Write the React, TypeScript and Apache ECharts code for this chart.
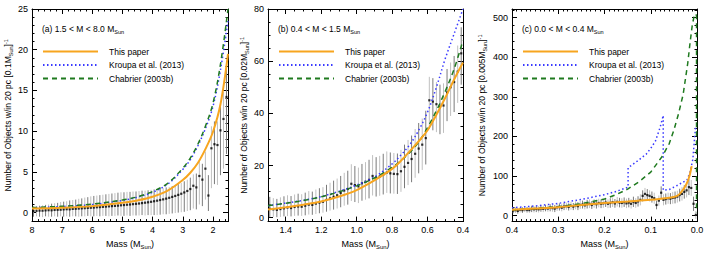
import React, { useEffect, useRef } from "react";
import * as echarts from "echarts";

const FONT = '"Liberation Sans", Arial, Helvetica, sans-serif';
const NAMES = ["This paper", "Kroupa et al. (2013)", "Chabrier (2003b)"];

// ---------- Panel (a) 1.5 < M < 8.0 ----------
const A_CURVE_MASS = [8, 7, 6, 5, 4.5, 4, 3.5, 3, 2.75, 2.5, 2.25, 2, 1.75, 1.5];
const A_THIS = [0.5, 0.6, 0.8, 1.2, 1.5, 1.95, 2.7, 4.0, 4.9, 6.1, 7.8, 9.9, 13.3, 19.5];
const A_KROUPA = [0.6, 0.75, 1.0, 1.5, 1.9, 2.5, 3.5, 5.3, 6.5, 8.2, 10.3, 13.0, 17.5, 23.5];
const A_CHAB = [0.62, 0.78, 1.05, 1.55, 1.95, 2.6, 3.6, 5.45, 6.7, 8.4, 10.6, 13.4, 18.2, 25];
const A_BINS = [
  7.95, 7.85, 7.75, 7.65, 7.55, 7.45, 7.35, 7.25, 7.15, 7.05,
  6.95, 6.85, 6.75, 6.65, 6.55, 6.45, 6.35, 6.25, 6.15, 6.05,
  5.95, 5.85, 5.75, 5.65, 5.55, 5.45, 5.35, 5.25, 5.15, 5.05,
  4.95, 4.85, 4.75, 4.65, 4.55, 4.45, 4.35, 4.25, 4.15, 4.05,
  3.95, 3.85, 3.75, 3.65, 3.55, 3.45, 3.35, 3.25, 3.15, 3.05,
  2.95, 2.85, 2.75, 2.65, 2.55, 2.45, 2.35, 2.25, 2.15, 2.05,
  1.95, 1.85, 1.75, 1.65, 1.55,
];
const A_VAL = [
  0.2, 0.22, 0.25, 0.24, 0.28, 0.3, 0.29, 0.33, 0.35, 0.36,
  0.4, 0.42, 0.41, 0.46, 0.48, 0.5, 0.53, 0.55, 0.58, 0.6,
  0.62, 0.66, 0.68, 0.71, 0.74, 0.77, 0.8, 0.83, 0.86, 0.9,
  0.93, 0.97, 1.0, 1.04, 1.08, 1.12, 1.17, 1.22, 1.27, 1.33,
  1.4, 1.47, 1.55, 1.63, 1.72, 1.82, 1.93, 2.05, 2.18, 2.32,
  2.48, 2.66, 2.9, 3.3, 3.1, 4.5, 4.05, 5.4, 2.1, 7.9,
  8.4, 8.3, 10.1, 11.5, 14.2,
];
const A_LO = [
  -0.5, -0.45, -0.5, -0.55, -0.45, -0.5, -0.5, -0.45, -0.5, -0.45,
  -0.5, -0.45, -0.5, -0.45, -0.45, -0.5, -0.45, -0.45, -0.4, -0.45,
  -0.45, -0.4, -0.45, -0.4, -0.4, -0.45, -0.4, -0.4, -0.35, -0.4,
  -0.4, -0.35, -0.4, -0.35, -0.35, -0.35, -0.3, -0.35, -0.3, -0.3,
  -0.3, -0.3, -0.25, -0.2, -0.2, -0.15, -0.1, -0.05, 0.0, 0.05,
  0.1, 0.2, 0.3, 0.5, 0.4, 1.0, 0.8, 1.6, 0.2, 3.0,
  3.5, 3.4, 4.6, 5.4, 7.2,
];
const A_HI = [
  0.75, 0.8, 0.85, 0.9, 0.95, 1.0, 1.1, 1.15, 1.2, 1.3,
  1.35, 1.4, 1.5, 1.55, 1.6, 1.7, 1.75, 1.85, 1.9, 2.0,
  2.05, 2.1, 2.15, 2.2, 2.25, 2.3, 2.35, 2.4, 2.45, 2.5,
  2.5, 2.55, 2.55, 2.6, 2.6, 2.65, 2.7, 2.7, 2.75, 2.8,
  2.85, 2.9, 2.95, 3.0, 3.1, 3.15, 3.25, 3.35, 3.5, 3.65,
  3.85, 4.05, 4.3, 4.7, 4.8, 6.3, 6.0, 7.5, 4.6, 10.6,
  11.2, 11.2, 13.3, 14.8, 17.8,
];
const A_XTICKS = [2, 3, 4, 5, 6, 7, 8];
const A_YTICKS = [0, 5, 10, 15, 20, 25];

// ---------- Panel (b) 0.4 < M < 1.5 ----------
const B_CURVE_MASS = [1.5, 1.4, 1.3, 1.2, 1.1, 1.0, 0.9, 0.8, 0.75, 0.7, 0.65, 0.6, 0.55, 0.5, 0.45, 0.4];
const B_THIS = [3.1, 4.0, 5.0, 6.2, 8.1, 10.6, 14.3, 18.7, 21.8, 25.5, 29.3, 33.5, 39.5, 46.0, 53.0, 59.5];
const B_KROUPA = [4.6, 5.6, 6.7, 8.1, 10.1, 12.5, 15.6, 20.6, 24.0, 28.0, 33.5, 40.5, 50.0, 61.0, 70.5, 80.0];
const B_CHAB = [4.6, 5.5, 6.6, 8.0, 9.9, 12.2, 15.2, 19.3, 21.9, 25.0, 29.0, 34.5, 41.0, 48.5, 57.0, 68.0];
const B_BINS = [
  1.49, 1.47, 1.45, 1.43, 1.41, 1.39, 1.37, 1.35, 1.33, 1.31,
  1.29, 1.27, 1.25, 1.23, 1.21, 1.19, 1.17, 1.15, 1.13, 1.11,
  1.09, 1.07, 1.05, 1.03, 1.01, 0.99, 0.97, 0.95, 0.93, 0.91,
  0.89, 0.87, 0.85, 0.83, 0.81, 0.79, 0.77, 0.75, 0.73, 0.71,
  0.69, 0.67, 0.65, 0.63, 0.61, 0.59, 0.57, 0.55, 0.53, 0.51,
  0.49, 0.47, 0.45, 0.43, 0.41,
];
const B_VAL = [
  3.4, 3.2, 3.0, 3.3, 3.6, 3.9, 3.7, 4.1, 4.3, 4.2,
  4.6, 5.0, 4.9, 5.4, 5.8, 6.1, 6.8, 7.4, 8.0, 8.6,
  9.5, 10.4, 11.0, 13.0, 12.5, 12.0, 13.2, 13.8, 14.5, 16.0,
  15.4, 15.8, 16.5, 17.3, 17.0, 16.8, 16.7, 17.8, 19.5, 21.0,
  22.5, 24.5, 26.5, 28.0, 30.5, 45.0, 44.5, 43.5, 42.5, 43.0,
  48.0, 50.0, 52.0, 56.0, 63.0,
];
const B_LO = [
  0.2, 0.3, 0.2, 0.3, 0.5, 0.6, 0.5, 0.7, 0.8, 0.7,
  0.9, 1.2, 1.1, 1.4, 1.7, 1.9, 2.3, 2.7, 3.1, 3.5,
  4.0, 4.6, 5.0, 6.4, 6.0, 5.6, 6.5, 6.9, 7.4, 8.5,
  8.1, 8.4, 8.9, 9.5, 9.3, 9.2, 9.1, 9.9, 11.3, 12.5,
  13.6, 15.3, 17.0, 18.3, 20.4, 34.0, 33.5, 32.8, 32.0, 32.5,
  37.0, 39.0, 40.5, 44.0, 51.0,
];
const B_HI = [
  8.0, 7.5, 7.2, 7.8, 8.2, 8.6, 8.3, 8.9, 9.2, 9.0,
  9.6, 10.2, 10.0, 10.8, 11.3, 11.7, 12.6, 13.4, 14.2, 15.0,
  16.0, 17.2, 18.0, 20.5, 19.8, 19.2, 20.6, 21.3, 22.2, 24.0,
  23.2, 23.7, 24.5, 25.4, 25.0, 24.8, 24.6, 26.0, 28.0, 29.8,
  31.5, 34.0, 36.3, 38.0, 41.0, 54.0, 53.5, 52.0, 51.0, 51.5,
  57.0, 59.5, 62.0, 66.0, 73.0,
];
const B_XTICKS = [1.4, 1.2, 1.0, 0.8, 0.6, 0.4];
const B_YTICKS = [0, 20, 40, 60, 80];

// ---------- Panel (c) 0.0 < M < 0.4 ----------
const C_THIS_MASS = [0.4, 0.35, 0.3, 0.25, 0.2, 0.15, 0.1, 0.07, 0.05, 0.04, 0.03, 0.025, 0.02, 0.015, 0.0115];
const C_THIS = [14.8, 18, 21.5, 27, 32, 36, 40, 44, 47, 52, 66, 75, 87, 106, 125];
const C_KROUPA_MASS = [0.4, 0.35, 0.3, 0.25, 0.2, 0.175, 0.149, 0.149, 0.13, 0.11, 0.1, 0.09, 0.08, 0.073, 0.073, 0.06, 0.05, 0.04, 0.03, 0.022, 0.015, 0.009, 0.005, 0.0025];
const C_KROUPA = [20, 24.5, 31, 41, 53, 61, 72, 121, 137, 155, 170, 188, 222, 253, 64, 66, 72, 78, 85, 89, 110, 142, 200, 228];
const C_CHAB_MASS = [0.4, 0.35, 0.3, 0.25, 0.2, 0.175, 0.15, 0.125, 0.1, 0.075, 0.06, 0.05, 0.04, 0.03, 0.02, 0.015, 0.01, 0.006, 0.003, 0.001, 0.001];
const C_CHAB = [15, 18, 23, 30, 42, 53, 67, 86, 110, 150, 182, 216, 257, 306, 385, 437, 483, 505, 510, 505, 8];
const C_BINS = [
  0.3975, 0.3925, 0.3875, 0.3825, 0.3775, 0.3725, 0.3675, 0.3625, 0.3575, 0.3525,
  0.3475, 0.3425, 0.3375, 0.3325, 0.3275, 0.3225, 0.3175, 0.3125, 0.3075, 0.3025,
  0.2975, 0.2925, 0.2875, 0.2825, 0.2775, 0.2725, 0.2675, 0.2625, 0.2575, 0.2525,
  0.2475, 0.2425, 0.2375, 0.2325, 0.2275, 0.2225, 0.2175, 0.2125, 0.2075, 0.2025,
  0.1975, 0.1925, 0.1875, 0.1825, 0.1775, 0.1725, 0.1675, 0.1625, 0.1575, 0.1525,
  0.1475, 0.1425, 0.1375, 0.1325, 0.1275, 0.1225, 0.1175, 0.1125, 0.1075, 0.1025,
  0.0975, 0.0925, 0.0875, 0.0825, 0.0775, 0.0725, 0.0675, 0.0625, 0.0575, 0.0525,
  0.0475, 0.0425, 0.0375, 0.0325, 0.0275, 0.0225, 0.0175, 0.0125, 0.0075, 0.0025,
];
const C_VAL = [
  13, 14, 12, 15, 14, 16, 15, 14, 17, 16,
  17, 16, 18, 17, 19, 18, 20, 19, 18, 21,
  22, 20, 23, 24, 22, 25, 23, 26, 24, 27,
  28, 26, 29, 30, 27, 31, 29, 32, 30, 31,
  33, 30, 32, 34, 31, 35, 33, 32, 34, 31,
  33, 30, 35, 32, 36, 40, 50, 55, 52, 50,
  47, 44, 27, 38, 58, 40, 42, 44, 43, 45,
  46, 48, 52, 55, 60, 64, 72, 70, 30, 2,
];
const C_LO = [
  6, 7, 5, 8, 7, 9, 8, 7, 9, 8,
  9, 8, 10, 9, 11, 10, 11, 10, 9, 12,
  13, 11, 14, 15, 13, 15, 14, 16, 14, 17,
  18, 16, 18, 19, 17, 20, 18, 21, 19, 20,
  22, 19, 20, 22, 20, 23, 21, 20, 22, 19,
  21, 18, 22, 20, 23, 26, 36, 40, 37, 36,
  33, 30, 16, 25, 42, 26, 28, 30, 29, 30,
  31, 33, 36, 38, 43, 46, 52, 50, 12, -8,
];
const C_HI = [
  20, 21, 19, 22, 21, 23, 22, 21, 25, 24,
  25, 24, 26, 25, 27, 26, 29, 28, 27, 30,
  31, 29, 32, 33, 31, 35, 32, 36, 34, 37,
  38, 36, 40, 41, 37, 42, 40, 43, 41, 42,
  44, 41, 44, 46, 42, 47, 45, 44, 46, 43,
  45, 42, 48, 44, 49, 54, 64, 70, 67, 64,
  61, 58, 38, 51, 74, 54, 56, 58, 57, 60,
  61, 63, 68, 72, 77, 82, 92, 90, 48, 12,
];
const C_XTICKS = [0.4, 0.3, 0.2, 0.1, 0.0];
const C_YTICKS = [0, 100, 200, 300, 400, 500];

// ---------- helpers ----------
function steps(from: number, to: number, step: number) {
  const out: number[] = [];
  const n = Math.round((to - from) / step);
  for (let i = 0; i <= n; i++) out.push(+(from + i * step).toFixed(6));
  return out;
}

function richSet(size: number) {
  return {
    n: { fontSize: size, fontFamily: FONT, fontWeight: "normal", color: "#000", lineHeight: size + 3 },
    s: { fontSize: size * 0.65, fontFamily: FONT, fontWeight: "normal", color: "#000", verticalAlign: "bottom", lineHeight: size * 0.8 },
    p: { fontSize: size * 0.65, fontFamily: FONT, fontWeight: "normal", color: "#000", verticalAlign: "top", lineHeight: size * 0.8 },
  };
}

function xAxes(gi: number, min: number, max: number, majors: number[], minors: number[], digits: number) {
  const base = { type: "value", gridIndex: gi, min, max, inverse: true, splitLine: { show: false } };
  return [
    {
      ...base,
      position: "bottom",
      axisLine: { show: true, onZero: false, lineStyle: { color: "#000", width: 1 } },
      axisTick: { show: true, inside: true, length: 5, customValues: majors, lineStyle: { color: "#000" } },
      axisLabel: {
        show: true, customValues: majors, color: "#000", fontSize: 9, fontFamily: FONT, margin: 4,
        formatter: (v: number) => v.toFixed(digits),
      },
      name: "{n|Mass (M}{s|Sun}{n|)}",
      nameLocation: "middle",
      nameGap: 13,
      nameTextStyle: { fontWeight: "normal", rich: richSet(9) },
    },
    {
      ...base,
      position: "bottom",
      axisLine: { show: false, onZero: false },
      axisTick: { show: true, inside: true, length: 2.5, customValues: minors, lineStyle: { color: "#000" } },
      axisLabel: { show: false },
    },
    {
      ...base,
      position: "top",
      axisLine: { show: true, onZero: false, lineStyle: { color: "#000", width: 1 } },
      axisTick: { show: true, inside: true, length: 5, customValues: majors, lineStyle: { color: "#000" } },
      axisLabel: { show: false },
    },
    {
      ...base,
      position: "top",
      axisLine: { show: false, onZero: false },
      axisTick: { show: true, inside: true, length: 2.5, customValues: minors, lineStyle: { color: "#000" } },
      axisLabel: { show: false },
    },
  ];
}

function yAxes(gi: number, min: number, max: number, majors: number[], minors: number[], unit: string, gap: number) {
  const base = { type: "value", gridIndex: gi, min, max, splitLine: { show: false } };
  return [
    {
      ...base,
      position: "left",
      axisLine: { show: true, onZero: false, lineStyle: { color: "#000", width: 1 } },
      axisTick: { show: true, inside: true, length: 5, customValues: majors, lineStyle: { color: "#000" } },
      axisLabel: { show: true, customValues: majors, color: "#000", fontSize: 9, fontFamily: FONT, margin: 4 },
      name: "{n|Number of Objects w/in 20 pc [" + unit + "M}{s|Sun}{n|]}{p|-1}",
      nameLocation: "middle",
      nameRotate: 90,
      nameGap: gap,
      nameTextStyle: { fontWeight: "normal", rich: richSet(8.5) },
    },
    {
      ...base,
      position: "left",
      axisLine: { show: false, onZero: false },
      axisTick: { show: true, inside: true, length: 2.5, customValues: minors, lineStyle: { color: "#000" } },
      axisLabel: { show: false },
    },
    {
      ...base,
      position: "right",
      axisLine: { show: true, onZero: false, lineStyle: { color: "#000", width: 1 } },
      axisTick: { show: true, inside: true, length: 5, customValues: majors, lineStyle: { color: "#000" } },
      axisLabel: { show: false },
    },
    {
      ...base,
      position: "right",
      axisLine: { show: false, onZero: false },
      axisTick: { show: true, inside: true, length: 2.5, customValues: minors, lineStyle: { color: "#000" } },
      axisLabel: { show: false },
    },
  ];
}

function zip(xs: number[], ys: number[]) {
  return xs.map((x, i) => [x, ys[i]]);
}

function panelSeries(
  gi: number,
  bins: number[], val: number[], lo: number[], hi: number[],
  thisM: number[], thisV: number[],
  krM: number[], krV: number[], krSmooth: number,
  chM: number[], chV: number[], chSmooth: number,
) {
  const ax = { xAxisIndex: gi * 4, yAxisIndex: gi * 4 };
  return [
    {
      type: "custom",
      name: "err" + gi,
      ...ax,
      clip: true,
      z: 1,
      data: bins.map((b, i) => [b, lo[i], hi[i]]),
      encode: { x: 0, y: [1, 2] },
      renderItem: (params: any, api: any) => {
        const x = api.value(0);
        const a = api.coord([x, api.value(1)]);
        const b = api.coord([x, api.value(2)]);
        return {
          type: "line",
          shape: { x1: a[0], y1: a[1], x2: b[0], y2: b[1] },
          style: { stroke: params.dataIndex % 2 ? "#c0c0c0" : "#7a7a7a", lineWidth: 1 },
        };
      },
    },
    {
      type: "scatter",
      name: "pts" + gi,
      ...ax,
      z: 2,
      symbol: "rect",
      symbolSize: 2.2,
      itemStyle: { color: "#000" },
      data: zip(bins, val),
    },
    {
      type: "line",
      name: NAMES[0],
      ...ax,
      z: 5,
      symbol: "none",
      smooth: 0.35,
      lineStyle: { color: "#f7a51f", width: 2, type: "solid" },
      itemStyle: { color: "#f7a51f" },
      data: zip(thisM, thisV),
    },
    {
      type: "line",
      name: NAMES[1],
      ...ax,
      z: 4,
      symbol: "none",
      smooth: krSmooth,
      lineStyle: { color: "#3a3aff", width: 1.5, type: [1.5, 2.5] },
      itemStyle: { color: "#3a3aff" },
      data: zip(krM, krV),
    },
    {
      type: "line",
      name: NAMES[2],
      ...ax,
      z: 4,
      symbol: "none",
      smooth: chSmooth,
      lineStyle: { color: "#1f7a1f", width: 1.5, type: [5, 4] },
      itemStyle: { color: "#1f7a1f" },
      data: zip(chM, chV),
    },
  ];
}

function legendAt(left: number) {
  return {
    left,
    top: 47,
    orient: "vertical",
    itemWidth: 55,
    itemHeight: 8,
    itemGap: 4.5,
    padding: 0,
    data: NAMES,
    selectedMode: false,
    itemStyle: { opacity: 0 },
    textStyle: { fontSize: 8.5, fontFamily: FONT, color: "#000", padding: [0, 0, 0, 6] },
  };
}

function titleAt(left: number, label: string) {
  return {
    left,
    top: 23,
    padding: 0,
    text: "{n|" + label + "}{s|Sun}",
    textStyle: { fontWeight: "normal", rich: richSet(8.5) },
  };
}

export default function App() {
  const ref = useRef<HTMLDivElement>(null);
  useEffect(() => {
    if (!ref.current) return;
    const chart = echarts.init(ref.current, null, { renderer: "svg" });
    const option: any = {
      animation: false,
      backgroundColor: "#fff",
      textStyle: { fontFamily: FONT },
      title: [
        titleAt(42, "(a) 1.5 < M < 8.0 M"),
        titleAt(278, "(b) 0.4 < M < 1.5 M"),
        titleAt(522, "(c) 0.0 < M < 0.4 M"),
      ],
      legend: [legendAt(42), legendAt(278), legendAt(522)],
      grid: [
        { left: 32, right: 480, top: 9, bottom: 29 },
        { left: 268, right: 245, top: 9, bottom: 28 },
        { left: 512, right: 11, top: 9, bottom: 28 },
      ],
      xAxis: [
        ...xAxes(0, 1.5, 8, A_XTICKS, steps(1.6, 8, 0.2), 0),
        ...xAxes(1, 0.4, 1.5, B_XTICKS, steps(0.4, 1.5, 0.05), 1),
        ...xAxes(2, 0, 0.4, C_XTICKS, steps(0, 0.4, 0.01), 1),
      ],
      yAxis: [
        ...yAxes(0, -1.1, 25, A_YTICKS, steps(-1, 25, 1), "0.1", 16),
        ...yAxes(1, -1.5, 80, B_YTICKS, steps(0, 80, 5), "0.02", 16),
        ...yAxes(2, -15, 522, C_YTICKS, steps(0, 520, 20), "0.005", 24),
      ],
      series: [
        ...panelSeries(0, A_BINS, A_VAL, A_LO, A_HI, A_CURVE_MASS, A_THIS, A_CURVE_MASS, A_KROUPA, 0.35, A_CURVE_MASS, A_CHAB, 0.35),
        ...panelSeries(1, B_BINS, B_VAL, B_LO, B_HI, B_CURVE_MASS, B_THIS, B_CURVE_MASS, B_KROUPA, 0.35, B_CURVE_MASS, B_CHAB, 0.35),
        ...panelSeries(2, C_BINS, C_VAL, C_LO, C_HI, C_THIS_MASS, C_THIS, C_KROUPA_MASS, C_KROUPA, 0, C_CHAB_MASS, C_CHAB, 0),
      ],
    };
    chart.setOption(option);
    return () => chart.dispose();
  }, []);
  return (
    <div
      ref={ref}
      style={{ position: "fixed", left: 0, top: 0, width: 708, height: 255, background: "#fff" }}
    />
  );
}
